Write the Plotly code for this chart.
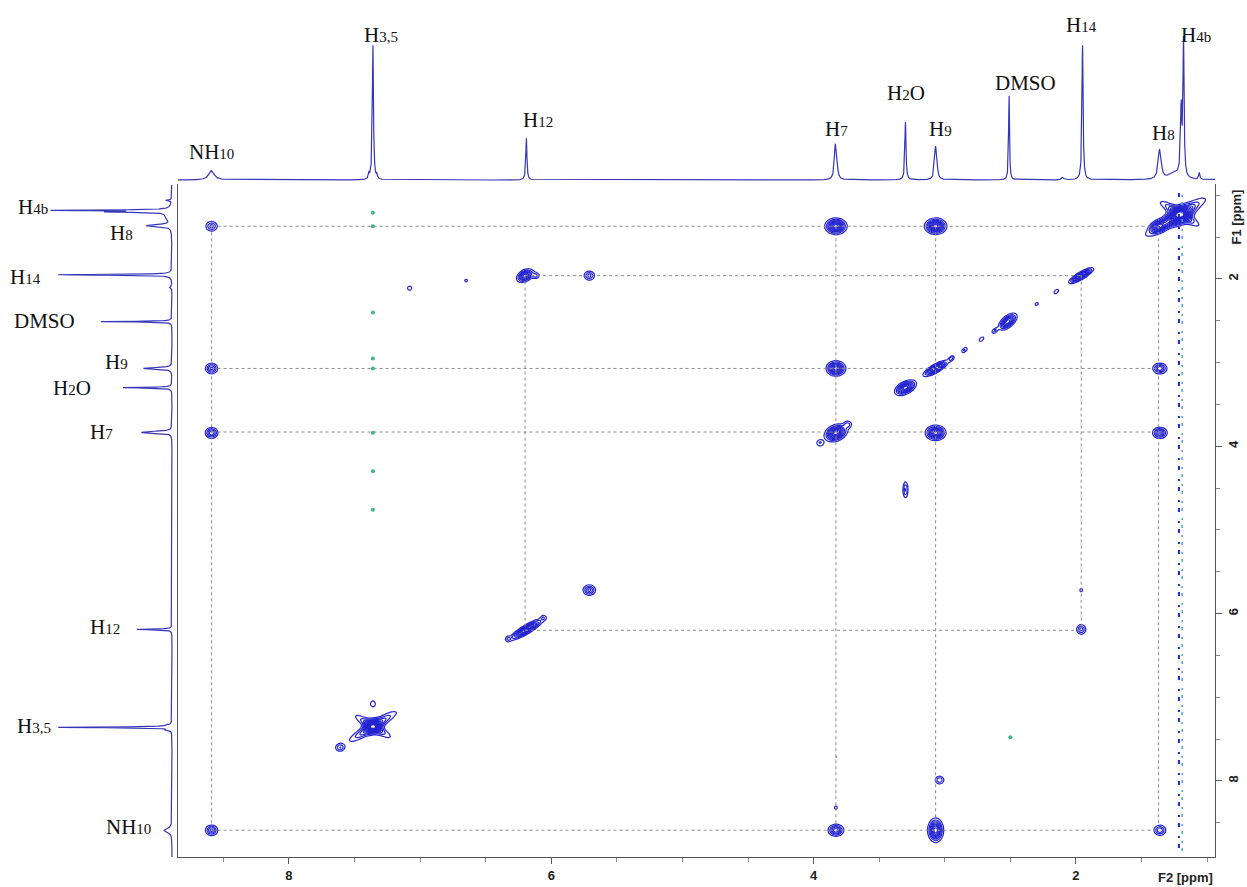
import numpy as np
import plotly.graph_objects as go

W, H = 1247, 887

# ---------------- data ----------------
# 1D proton spectrum components: position (ppm), relative height, half-width (ppm)
PEAK_PPM    = [8.59, 7.39, 7.36, 7.33, 6.19, 3.836, 3.826, 3.30, 3.072, 3.064, 2.51, 2.10, 1.95, 1.366, 1.356, 1.25, 1.198, 1.18, 1.06]
PEAK_HEIGHT = [0.07, 0.04, 1.00, 0.03, 0.31, 0.20, 0.16, 0.43, 0.17, 0.14, 0.63, 0.02, 1.00, 0.14, 0.12, 0.05, 0.50, 1.00, 0.05]
PEAK_WIDTH  = [0.025, 0.004, 0.005, 0.004, 0.005, 0.008, 0.008, 0.005, 0.008, 0.008, 0.004, 0.010, 0.005, 0.011, 0.011, 0.050, 0.006, 0.005, 0.005]

# COSY spin systems (shifts in ppm) -> dotted correlation lines
SPIN_A_PPM = [8.59, 3.83, 3.07, 1.37]   # NH10, H7, H9, H8
SPIN_B_PPM = [6.20, 1.96]               # H12, H14

# 2D COSY peaks: F2 (ppm), F1 (ppm), amplitude, width F2, width F1 (ppm), tilt correlation
CP_F2  = [8.59, 3.83, 3.07, 1.36, 8.59, 3.83, 3.07, 8.59, 3.83, 3.07, 1.36, 8.59, 3.83, 3.07, 1.36,
          6.20, 5.71, 1.96, 6.19, 1.96, 1.96, 5.71, 2.52, 3.30, 3.30,
          7.36, 7.36, 7.36, 7.61, 7.36, 3.04, 3.74, 3.95, 7.08, 6.65,
          2.15, 2.30, 2.62, 2.72, 2.85, 2.95,
          1.21, 1.24, 1.21, 1.37, 3.83, 3.83, 6.33, 6.06, 6.12]
CP_F1  = [8.59, 8.59, 8.59, 8.59, 1.37, 1.37, 1.37, 3.07, 3.07, 3.07, 3.07, 3.84, 3.84, 3.84, 3.84,
          1.96, 1.96, 1.96, 6.19, 6.19, 5.72, 5.72, 2.51, 3.30, 4.52,
          7.35, 7.35, 7.35, 7.60, 7.08, 7.99, 3.74, 3.96, 2.11, 2.02,
          2.15, 2.30, 2.62, 2.72, 2.85, 2.95,
          1.24, 1.26, 1.22, 1.37, 8.32, 7.71, 6.30, 6.05, 1.96]
CP_AMP = [0.45, 0.60, 0.90, 0.40, 0.35, 1.00, 1.00, 0.45, 0.90, 1.00, 0.50, 0.50, 1.00, 0.90, 0.55,
          0.80, 0.35, 1.00, 1.00, 0.35, 0.13, 0.45, 0.80, 0.90, 0.35,
          1.00, 0.50, 0.40, 0.30, 0.20, 0.30, 0.25, 0.22, 0.18, 0.15,
          0.20, 0.15, 0.25, 0.20, 0.25, 0.30,
          1.00, 0.60, 0.45, 0.70, 0.15, 0.12, 0.20, 0.18, 0.25]
CP_SX  = [0.027, 0.032, 0.029, 0.027, 0.027, 0.040, 0.040, 0.027, 0.036, 0.045, 0.030, 0.027, 0.042, 0.038, 0.030,
          0.032, 0.025, 0.045, 0.060, 0.022, 0.015, 0.027, 0.035, 0.040, 0.012,
          0.035, 0.100, 0.080, 0.022, 0.015, 0.022, 0.020, 0.020, 0.015, 0.012,
          0.015, 0.015, 0.015, 0.015, 0.015, 0.015,
          0.050, 0.120, 0.085, 0.035, 0.012, 0.010, 0.015, 0.015, 0.020]
CP_SY  = [0.036, 0.038, 0.070, 0.036, 0.036, 0.046, 0.046, 0.036, 0.044, 0.045, 0.036, 0.036, 0.050, 0.044, 0.036,
          0.040, 0.033, 0.045, 0.060, 0.036, 0.030, 0.036, 0.050, 0.045, 0.060,
          0.045, 0.100, 0.080, 0.030, 0.030, 0.030, 0.028, 0.028, 0.022, 0.020,
          0.022, 0.022, 0.022, 0.022, 0.022, 0.022,
          0.060, 0.120, 0.085, 0.040, 0.022, 0.020, 0.022, 0.022, 0.025]
CP_RHO = [0, 0, 0, 0, 0, 0, 0, 0, 0, 0.80, 0, 0, 0.30, 0, 0,
          0.40, 0, 0.85, 0.88, 0, 0, 0, 0.60, 0.50, 0,
          0, 0.92, -0.90, 0, 0, 0, 0, 0, 0, 0,
          0.5, 0.5, 0.5, 0.5, 0.5, 0.5,
          0.30, 0.92, -0.90, 0.30, 0, 0, 0, 0, 0]

# weak negative (green) responses
NEG_F2 = [7.36, 7.36, 7.36, 7.36, 7.36, 7.36, 7.36, 7.36, 2.50]
NEG_F1 = [1.21, 1.37, 2.40, 2.95, 3.07, 3.84, 4.30, 4.76, 7.48]

# t1-noise ridge of the methyl signal (F2 ppm)
T1_NOISE_F2 = [1.215, 1.19]

# labels of the 1D projections
TOP_LABELS = [("NH", "10", ""), ("H", "3,5", ""), ("H", "12", ""), ("H", "7", ""), ("H", "2", "O"),
              ("H", "9", ""), ("DMSO", "", ""), ("H", "14", ""), ("H", "8", ""), ("H", "4b", "")]

X_RANGE = [8.846, 0.94]
Y_RANGE = [8.91, 0.877]

# ---------------- styling ----------------
BLUE = "#2424d0"
SPEC = "#3535b8"
GREEN = "#3cb878"
CYAN = "#3aaed0"
DOT = "#8c8c8c"
FRAME = "#555555"


def lab(main, sub, tail):
    s = main
    if sub:
        s += "<span style='font-size:15px'>%s</span>" % sub
    return s + tail


def px(x):
    return x / W


def py(y):
    return 1 - y / H


# 1D spectrum curve from the peak list
ppm = np.linspace(0.85, 8.95, 9001)
spec = np.zeros_like(ppm)
for p0, h0, w0 in zip(PEAK_PPM, PEAK_HEIGHT, PEAK_WIDTH):
    spec += h0 * w0 ** 2 / ((ppm - p0) ** 2 + w0 ** 2)

# 2D surface from the peak list
gx = np.arange(0.90, 8.90, 0.013)
gy = np.arange(0.85, 8.95, 0.022)
GX, GY = np.meshgrid(gx, gy)
Z = np.zeros_like(GX)
for f2, f1, a, sx, sy, r in zip(CP_F2, CP_F1, CP_AMP, CP_SX, CP_SY, CP_RHO):
    u = (GX - f2) / sx
    v = (GY - f1) / sy
    m = (np.abs(u) < 8) & (np.abs(v) < 8)
    q = (u * u - 2 * r * u * v + v * v) / (2 * (1 - r * r))
    Z += np.where(m, a * np.exp(-np.minimum(q, 50)), 0.0)
Z = Z.astype(np.float32)

fig = go.Figure()

# dotted correlation lines
for system in (SPIN_A_PPM, SPIN_B_PPM):
    lo, hi = min(system), max(system)
    for s in system:
        fig.add_trace(go.Scatter(x=[hi, lo], y=[s, s], mode="lines",
                                 line=dict(color=DOT, width=1, dash="dot"),
                                 hoverinfo="skip", showlegend=False, xaxis="x", yaxis="y"))
        fig.add_trace(go.Scatter(x=[s, s], y=[lo, hi], mode="lines",
                                 line=dict(color=DOT, width=1, dash="dot"),
                                 hoverinfo="skip", showlegend=False, xaxis="x", yaxis="y"))

# t1 noise ridge
fig.add_trace(go.Scatter(x=[T1_NOISE_F2[1]] * 2, y=[Y_RANGE[1], Y_RANGE[0]], mode="lines",
                         line=dict(color=CYAN, width=1.5, dash="3px,7px,2px,5px"),
                         hoverinfo="skip", showlegend=False))
fig.add_trace(go.Scatter(x=[T1_NOISE_F2[0]] * 2, y=[Y_RANGE[1], Y_RANGE[0]], mode="lines",
                         line=dict(color=BLUE, width=2, dash="2px,6px,4px,9px"),
                         hoverinfo="skip", showlegend=False))

# contours
fig.add_trace(go.Contour(x=gx, y=gy, z=Z,
                         contours=dict(start=0.1, end=1.6, size=0.1, coloring="lines"),
                         line=dict(width=1.2, smoothing=0.8),
                         colorscale=[[0, BLUE], [1, BLUE]], showscale=False,
                         hoverinfo="skip", xaxis="x", yaxis="y"))

# negative responses
fig.add_trace(go.Scatter(x=NEG_F2, y=NEG_F1, mode="markers",
                         marker=dict(color=GREEN, size=4, symbol="circle"),
                         hoverinfo="skip", showlegend=False))

# top projection
fig.add_trace(go.Scatter(x=ppm, y=spec, mode="lines", line=dict(color=SPEC, width=1.2),
                         hoverinfo="skip", showlegend=False, xaxis="x2", yaxis="y2"))
# left projection
fig.add_trace(go.Scatter(x=spec, y=ppm, mode="lines", line=dict(color=SPEC, width=1.2),
                         hoverinfo="skip", showlegend=False, xaxis="x3", yaxis="y3"))

tickfont = dict(family="Liberation Sans", size=13, color="#222", weight="bold")

fig.update_layout(
    width=W, height=H, margin=dict(l=0, r=0, t=0, b=0),
    paper_bgcolor="white", plot_bgcolor="white", showlegend=False,
    xaxis=dict(domain=[px(178), px(1215)], range=X_RANGE, anchor="y",
               tickmode="array", tickvals=[8, 6, 4, 2], ticktext=["8", "6", "4", "2"],
               ticks="outside", ticklen=6, tickcolor=FRAME, tickwidth=1,
               minor=dict(dtick=0.5, tick0=0, ticks="outside", ticklen=4, tickcolor="#888"),
               showline=True, mirror=True, linecolor=FRAME, linewidth=1,
               showgrid=False, zeroline=False, tickfont=tickfont),
    yaxis=dict(domain=[py(857), py(185)], range=Y_RANGE, anchor="x", side="right",
               tickmode="array", tickvals=[2, 4, 6, 8], ticktext=["2", "4", "6", "8"],
               tickangle=-90,
               ticks="outside", ticklen=6, tickcolor=FRAME, tickwidth=1,
               minor=dict(dtick=0.5, tick0=0, ticks="outside", ticklen=4, tickcolor="#888"),
               showline=True, mirror=True, linecolor=FRAME, linewidth=1,
               showgrid=False, zeroline=False, tickfont=tickfont),
    xaxis2=dict(domain=[px(178), px(1215)], matches="x", anchor="y2", visible=False),
    yaxis2=dict(domain=[py(190), 1.0], range=[-10 / 135, 180 / 135], anchor="x2", visible=False),
    xaxis3=dict(domain=[0, px(178)], range=[172 / 114, -6 / 114], anchor="y3", visible=False),
    yaxis3=dict(domain=[py(857), py(185)], matches="y", anchor="x3", visible=False),
)

ann = []
labfont = dict(family="Liberation Serif", size=21, color="#111")
# top labels: (center x px, center y px)
TOP_POS = [(211, 152), (381, 35), (538, 120), (836, 129), (906, 93),
           (940, 129), (1025, 83), (1081, 25), (1163, 133), (1196, 35)]
for (m, s, t), (xx, yy) in zip(TOP_LABELS, TOP_POS):
    ann.append(dict(x=px(xx), y=py(yy), xref="paper", yref="paper", text=lab(m, s, t),
                    showarrow=False, xanchor="center", yanchor="middle", font=labfont))
# left labels: (right edge px, center y px)
LEFT_POS = [(153, 827), (53, 726), (122, 627), (115, 432), (93, 388),
            (130, 362), (77, 321), (43, 277), (135, 233), (50, 207)]
for (m, s, t), (xx, yy) in zip(TOP_LABELS, LEFT_POS):
    ann.append(dict(x=px(xx), y=py(yy), xref="paper", yref="paper", text=lab(m, s, t),
                    showarrow=False, xanchor="right", yanchor="middle", font=labfont))

axfont = dict(family="Liberation Sans", size=13, color="#222", weight="bold")
ann.append(dict(x=px(1215), y=py(877), xref="paper", yref="paper", text="F2 [ppm]",
                showarrow=False, xanchor="right", yanchor="middle", font=axfont))
ann.append(dict(x=px(1236), y=py(188), xref="paper", yref="paper", text="F1 [ppm]",
                showarrow=False, xanchor="center", yanchor="top", textangle=-90, font=axfont))
fig.update_layout(annotations=ann)

fig.write_html("out.html")
